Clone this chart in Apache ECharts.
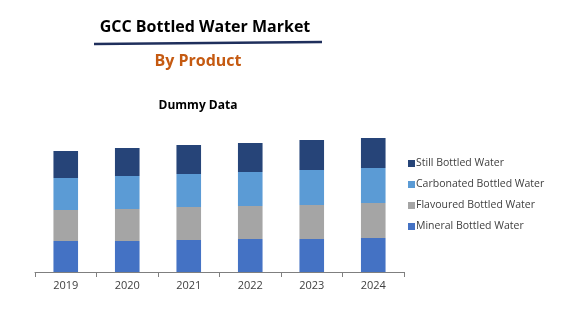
<!DOCTYPE html>
<html><head><meta charset="utf-8">
<script src="https://cdn.jsdelivr.net/npm/echarts@6/dist/echarts.min.js"></script>
<style>html,body{margin:0;padding:0;background:#fff}#c{width:564px;height:326px}</style>
</head><body><div id="c"></div>
<script>
const categories = ['2019','2020','2021','2022','2023','2024'];
const mineral = [31, 31, 32, 33, 33, 34];
const flavoured = [31, 32, 33, 33, 34, 35];
const carbonated = [32, 33, 33, 34, 35, 35];
const still = [27, 28, 29, 29, 30, 30];
const seriesNames = ['Mineral Bottled Water','Flavoured Bottled Water','Carbonated Bottled Water','Still Bottled Water'];
const colors = ['#4472C4','#A5A5A5','#5B9BD5','#264478'];
const font = '"Open Sans", sans-serif';
const chart = echarts.init(document.getElementById('c'));
const data = [mineral, flavoured, carbonated, still];
chart.setOption({
  animation: false,
  graphic: [
    {type:'text', style:{text:'GCC Bottled Water Market', x:205, y:27, textAlign:'center', textVerticalAlign:'middle', font:'bold 16px ' + font, fill:'#000'}},
    {type:'line', shape:{x1:94, y1:44, x2:322, y2:42}, style:{stroke:'#1F2F5C', lineWidth:2.5}},
    {type:'text', style:{text:'By Product', x:198, y:61, textAlign:'center', textVerticalAlign:'middle', font:'bold 16px ' + font, fill:'#C55A11'}},
    {type:'text', style:{text:'Dummy Data', x:198, y:106, textAlign:'center', textVerticalAlign:'middle', font:'bold 12px ' + font, fill:'#000'}}
  ],
  legend: {
    orient:'vertical', left:403, top:153, itemGap:10, itemWidth:7, itemHeight:7,
    icon:'rect',
    data: seriesNames.slice().reverse(),
    textStyle:{fontFamily:font, fontSize:10.5, color:'#404040', padding:[0,0,0,-4]}
  },
  grid: {left:35, right:160, top:122, bottom:54},
  xAxis: {
    type:'category', data:categories,
    axisLine:{lineStyle:{color:'#7f7f7f'}},
    axisTick:{show:true, length:5, lineStyle:{color:'#7f7f7f'}},
    axisLabel:{fontFamily:font, fontSize:11, color:'#404040', margin:8}
  },
  yAxis: {type:'value', min:0, max:150, show:false, splitLine:{show:false}},
  series: seriesNames.map((n,i)=>({
    name:n, type:'bar', stack:'a', barWidth:'40%', data:data[i],
    itemStyle:{color:colors[i]}
  }))
});
</script></body></html>
